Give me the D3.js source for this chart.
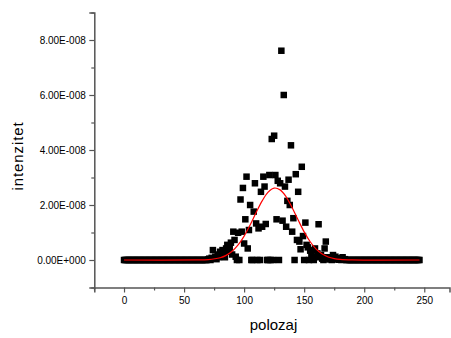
<!DOCTYPE html>
<html>
<head>
<meta charset="utf-8">
<script src="https://cdn.jsdelivr.net/npm/d3@7"></script>
<style>
  html, body { margin: 0; padding: 0; background: #fff; }
  svg { display: block; }
  text { font-family: "Liberation Sans", Arial, sans-serif; fill: #000; }
</style>
</head>
<body>
<svg id="chart" width="451" height="338"></svg>
<script>
// Measured profile: position (polozaj) vs intensity, intensity in units of 1e-8
const polozaj = d3.range(0, 247);
const intenzitet = [
  0, 0, 0, 0, 0, 0, 0, 0, 0, 0,
  0, 0, 0, 0, 0, 0, 0, 0, 0, 0,
  0, 0, 0, 0, 0, 0, 0, 0, 0, 0,
  0, 0, 0, 0, 0, 0, 0, 0, 0, 0,
  0, 0, 0, 0, 0, 0, 0, 0, 0, 0,
  0, 0, 0, 0, 0, 0, 0, 0, 0, 0,
  0, 0, 0, 0, 0, 0, 0, 0, 0, 0,
  0.02, 0.05, 0, 0.08, 0.36, 0.05, 0.12, 0.03, 0.2, 0.1,
  0.3, 0.15, 0.36, 0.25, 0.1, 0.42, 0.55, 0.3, 0.45, 0.63,
  0.2, 1.03, 0.73, 0.12, 0, 0.99, 0, 2.2, 1.03, 2.62,
  0.6, 1.48, 3.03, 0.42, 1.09, 2.0, 0, 0, 1.76, 2.79,
  1.33, 0, 1.15, 0, 2.48, 1.21, 3.03, 2.67, 1.31, 0,
  0, 3.09, 0, 4.4, 0, 4.52, 3.09, 1.48, 2.88, 0,
  2.79, 7.61, 1.43, 6.0, 2.67, 1.21, 2.15, 2.92, 2.0, 4.17,
  1.03, 1.52, 0, 3.12, 0.73, 2.48, 0.67, 0.39, 3.39, 0.87,
  0, 1.36, 0.55, 0.46, 0, 0.34, 0.2, 0.36, 0, 0.42,
  0.1, 0.24, 1.3, 0.12, 0.18, 0.05, 0, 0.42, 0.67, 0.1,
  0.06, 0.02, 0.08, 0, 0.18, 0.04, 0.12, 0.02, 0.05, 0.01,
  0.06, 0, 0.1, 0.02, 0.03, 0, 0, 0, 0, 0,
  0, 0, 0, 0, 0, 0, 0, 0, 0, 0,
  0, 0, 0, 0, 0, 0, 0, 0, 0, 0,
  0, 0, 0, 0, 0, 0, 0, 0, 0, 0,
  0, 0, 0, 0, 0, 0, 0, 0, 0, 0,
  0, 0, 0, 0, 0, 0, 0, 0, 0, 0,
  0, 0, 0, 0, 0, 0, 0
];

// Gaussian fit curve, sampled
const fitX = [0, 60, 70, 80, 85, 90, 95, 100, 105, 110, 115, 120, 125, 130, 135, 140, 145, 150, 155, 160, 165, 170, 175, 180, 190, 246];
const fitY = [0, 0.002, 0.016, 0.083, 0.169, 0.316, 0.546, 0.869, 1.275, 1.725, 2.15, 2.47, 2.616, 2.55, 2.296, 1.90, 1.454, 1.023, 0.664, 0.397, 0.219, 0.111, 0.052, 0.022, 0.003, 0];

// Axis ticks
const xMajor = [0, 50, 100, 150, 200, 250];
const xMinor = [-25, 25, 75, 125, 175, 225];
const yMajor = [0, 2, 4, 6, 8];
const yMinor = [-1, 1, 3, 5, 7, 9];
const yTickLabels = ["0.00E+000", "2.00E-008", "4.00E-008", "6.00E-008", "8.00E-008"];

const svg = d3.select("#chart");

const x = d3.scaleLinear().domain([-24.75, 271]).range([94.3, 449.5]);
const y = d3.scaleLinear().domain([-1, 9]).range([287.5, 12.5]);

const axisColor = "#555";

// Scatter markers
svg.append("g")
  .selectAll("rect")
  .data(polozaj.map((p, i) => [p, intenzitet[i]]))
  .join("rect")
  .attr("x", d => x(d[0]) - 3.25)
  .attr("y", d => y(d[1]) - 3.25)
  .attr("width", 6.5)
  .attr("height", 6.5)
  .attr("fill", "#000");

// Fit line
const line = d3.line()
  .x(d => x(d[0]))
  .y(d => y(d[1]))
  .curve(d3.curveCatmullRom);

svg.append("path")
  .datum(fitX.map((v, i) => [v, fitY[i]]))
  .attr("d", line)
  .attr("fill", "none")
  .attr("stroke", "#ff0000")
  .attr("stroke-width", 1.2);

// Y axis
const yAxisG = svg.append("g").attr("transform", `translate(${x.range()[0]},0)`);
yAxisG.call(d3.axisLeft(y).tickValues(yMajor).tickSize(5).tickFormat((d, i) => yTickLabels[i]));
yAxisG.append("g").call(d3.axisLeft(y).tickValues(yMinor).tickSize(3).tickFormat(""));

// X axis
const xAxisG = svg.append("g").attr("transform", `translate(0,${y.range()[0]})`);
xAxisG.call(d3.axisBottom(x).tickValues(xMajor).tickSize(5).tickFormat(d3.format("d")));
xAxisG.append("g").call(d3.axisBottom(x).tickValues(xMinor).tickSize(3).tickFormat(""));

svg.selectAll(".domain").attr("stroke", axisColor).attr("stroke-width", 1.5);
svg.selectAll(".tick line").attr("stroke", axisColor).attr("stroke-width", 1.2);
svg.selectAll(".tick text")
  .attr("font-family", "Liberation Sans, Arial, sans-serif")
  .attr("font-size", 10)
  .attr("fill", "#000");
yAxisG.selectAll(".tick text").attr("x", -8.5);
xAxisG.selectAll(".tick text").attr("y", 9);
// remove tick path end caps from minor axes
svg.selectAll("g g .domain").remove();

// Axis titles
svg.append("text")
  .attr("x", 273.5)
  .attr("y", 330)
  .attr("text-anchor", "middle")
  .attr("font-size", 15)
  .text("polozaj");

svg.append("text")
  .attr("transform", "translate(23,156) rotate(-90)")
  .attr("text-anchor", "middle")
  .attr("font-size", 15)
  .attr("letter-spacing", 0.9)
  .text("intenzitet");
</script>
</body>
</html>
